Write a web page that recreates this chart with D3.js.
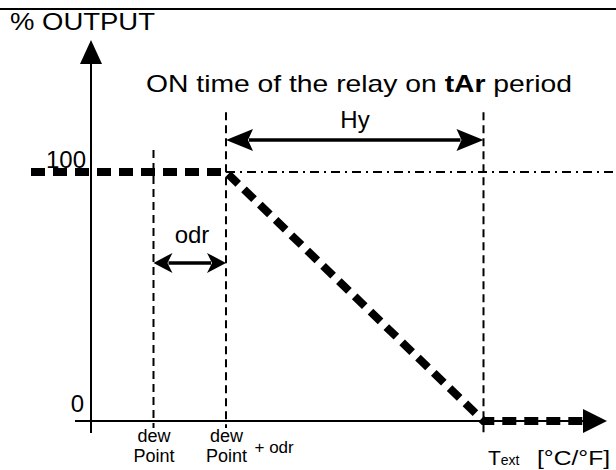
<!DOCTYPE html>
<html>
<head>
<meta charset="utf-8">
<script src="https://cdn.jsdelivr.net/npm/d3@7"></script>
<style>
  body { margin: 0; background: #fff; }
  svg { display: block; font-family: "Liberation Sans", Arial, sans-serif; }
</style>
</head>
<body>
<svg id="chart"></svg>
<script>
// output curve: % output vs external temperature (arbitrary temp units)
let outputX = [-12, 27, 78.5, 98.4];
let outputY = [100, 100, 0, 0];

// reference points on the temperature axis
let markerNames = ["dew Point", "dew Point + odr", "Text"];
let markerX = [12.5, 27, 78.5];
let yTicks = [0, 100];

let hySpan = [27, 78.5];
let odrSpan = [12.5, 27];

let w = 616;
let h = 470;

let svg = d3.select('#chart').attr('width', w).attr('height', h);

let xSc = d3.scaleLinear().domain([0, 100]).range([91, 591]);
let ySc = d3.scaleLinear().domain([0, 100]).range([421, 172]);

let line = d3.line().x(d => xSc(d[0])).y(d => ySc(d[1]));

// top frame line
svg.append('line')
   .attr('x1', 0).attr('x2', w).attr('y1', 9).attr('y2', 9)
   .attr('stroke', '#000').attr('stroke-width', 2);

// arrowhead helper (filled, slightly swept back)
let arrowHead = (tipX, tipY, dir, len, half, notch) => {
  let n = notch || 0;
  let pts;
  if (dir === 'up') pts = [[tipX, tipY], [tipX - half, tipY + len], [tipX, tipY + len - n], [tipX + half, tipY + len]];
  if (dir === 'right') pts = [[tipX, tipY], [tipX - len, tipY - half], [tipX - len + n, tipY], [tipX - len, tipY + half]];
  if (dir === 'left') pts = [[tipX, tipY], [tipX + len, tipY - half], [tipX + len - n, tipY], [tipX + len, tipY + half]];
  svg.append('path').attr('d', 'M' + pts.join('L') + 'Z').attr('fill', '#000');
}

// y axis line + arrow
svg.append('path')
   .attr('d', line([[0, -4.8], [0, 145]]))
   .attr('stroke', '#000').attr('stroke-width', 2).attr('fill', 'none');
arrowHead(xSc(0), ySc(153), 'up', 24, 11, 0);

// x axis line + arrow
svg.append('path')
   .attr('d', line([[-3.2, 0], [100, 0]]))
   .attr('stroke', '#000').attr('stroke-width', 2).attr('fill', 'none');
arrowHead(xSc(103.2), ySc(0), 'right', 24, 12, 0);

// vertical dashed guides
let guideTops = [108.8, 124, 124];
let guideBottoms = [-2.8, -2.8, -4.8];
markerX.forEach((mx, i) => {
  svg.append('path')
     .attr('d', line([[mx, guideTops[i]], [mx, guideBottoms[i]]]))
     .attr('stroke', '#000').attr('stroke-width', 2)
     .attr('stroke-dasharray', '8,5').attr('fill', 'none');
});

// dash-dot 100% reference line
svg.append('path')
   .attr('d', line([[27, 100], [105, 100]]))
   .attr('stroke', '#000').attr('stroke-width', 2)
   .attr('stroke-dasharray', '9,5,2,5').attr('fill', 'none');

// output curve, thick dashed
svg.append('path')
   .datum(outputX.map((x, i) => [x, outputY[i]]))
   .attr('d', line)
   .attr('stroke', '#000').attr('stroke-width', 8)
   .attr('stroke-dasharray', '14,8').attr('fill', 'none');

// double arrows
let dblArrow = (span, yv, len, half) => {
  let y = ySc(yv);
  svg.append('line')
     .attr('x1', xSc(span[0]) + len - 4).attr('x2', xSc(span[1]) - len + 4)
     .attr('y1', y).attr('y2', y)
     .attr('stroke', '#000').attr('stroke-width', 3.5);
  arrowHead(xSc(span[0]), y, 'left', len, half, 5);
  arrowHead(xSc(span[1]), y, 'right', len, half, 5);
}
dblArrow(hySpan, 112.9, 27, 11);
dblArrow(odrSpan, 63.5, 19, 10);

// y axis labels
let yAxis = d3.axisLeft(ySc).tickValues(yTicks).tickSize(0).tickPadding(5);
let yg = svg.append('g').attr('transform', 'translate(' + xSc(0) + ',0)').call(yAxis);
yg.select('.domain').remove();
yg.selectAll('text')
  .attr('font-family', '"Liberation Sans", Arial, sans-serif')
  .attr('font-size', 24)
  .attr('fill', '#000')
  .attr('dy', d => d === 100 ? -5 : -10)
  .attr('dx', d => d === 100 ? 0 : -2);

// x axis labels
let xAxis = d3.axisBottom(xSc).tickValues(markerX).tickSize(0).tickFormat('');
let xg = svg.append('g').attr('transform', 'translate(0,' + ySc(0) + ')').call(xAxis);
xg.select('.domain').remove();
xg.selectAll('.tick text').remove();
xg.selectAll('.tick').each(function(d, i) {
  let t = d3.select(this);
  if (i < 2) {
    let txt = t.append('text').attr('text-anchor', 'middle')
               .attr('font-family', '"Liberation Sans", Arial, sans-serif')
               .attr('font-size', 18).attr('fill', '#000');
    txt.append('tspan').attr('x', 0).attr('y', 21).text('dew');
    txt.append('tspan').attr('x', 0).attr('y', 41).text('Point');
    if (i === 1) {
      t.append('text').attr('x', 28).attr('y', 32).attr('text-anchor', 'start')
       .attr('font-family', '"Liberation Sans", Arial, sans-serif')
       .attr('font-size', 17).attr('fill', '#000').text('+ odr');
    }
  } else {
    let txt = t.append('text').attr('x', 4).attr('y', 44).attr('text-anchor', 'start')
               .attr('font-family', '"Liberation Sans", Arial, sans-serif')
               .attr('fill', '#000');
    txt.append('tspan').attr('font-size', 21).text('T');
    txt.append('tspan').attr('font-size', 14).attr('dx', 0).text('ext');
  }
});

svg.append('text')
   .attr('x', 537).attr('y', 465)
   .attr('font-size', 21).attr('textLength', 73).attr('lengthAdjust', 'spacingAndGlyphs')
   .text('[°C/°F]');

// titles
svg.append('text')
   .attr('x', 10).attr('y', 30)
   .attr('font-size', 24).attr('textLength', 145).attr('lengthAdjust', 'spacingAndGlyphs')
   .text('% OUTPUT');

let title = svg.append('text')
   .attr('x', 146).attr('y', 92)
   .attr('font-size', 24).attr('textLength', 426).attr('lengthAdjust', 'spacingAndGlyphs');
title.append('tspan').text('ON time of the relay on ');
title.append('tspan').attr('font-weight', 'bold').text('tAr');
title.append('tspan').text(' period');

svg.append('text')
   .attr('x', 355).attr('y', 128).attr('text-anchor', 'middle')
   .attr('font-size', 24).text('Hy');

svg.append('text')
   .attr('x', 192).attr('y', 243).attr('text-anchor', 'middle')
   .attr('font-size', 24).text('odr');
</script>
</body>
</html>
